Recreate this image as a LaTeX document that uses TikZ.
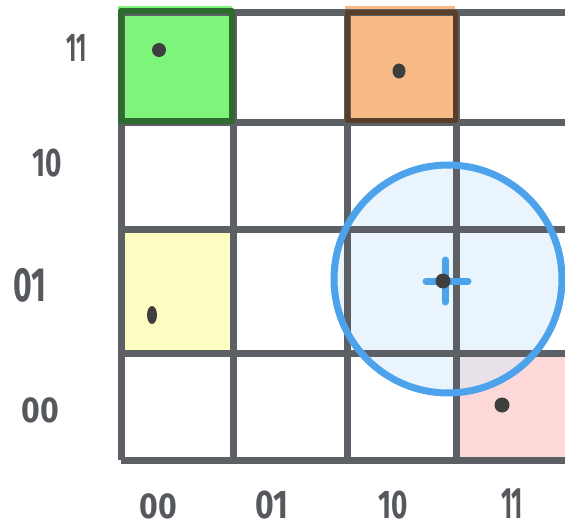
\documentclass[tikz,border=0pt]{standalone}
\usepackage{fontspec}
\setmainfont{Fira Sans}
\definecolor{gridgray}{HTML}{5C5F63}
\definecolor{greenfill}{HTML}{7DF47A}
\definecolor{greenedge}{HTML}{2F6A30}
\definecolor{orangefill}{HTML}{F8BB88}
\definecolor{orangeedge}{HTML}{5A3D2B}
\definecolor{yellowfill}{HTML}{FEFDC2}
\definecolor{pinkfill}{HTML}{FDD9D9}
\definecolor{ringblue}{HTML}{4CA3EB}
\definecolor{ringfill}{HTML}{D6EAFB}
\definecolor{dotgray}{HTML}{3E3E3E}
\definecolor{labelgray}{HTML}{55585C}
\tikzset{
  gridline/.style={draw=gridgray, line width=7pt},
  dotmark/.style={fill=dotgray, draw=none, ellipse, minimum width=13pt, minimum height=15pt, inner sep=0pt},
  axislabel/.style={text=labelgray, font=\fontsize{40}{40}\selectfont\bfseries, inner sep=0pt},
}
\usetikzlibrary{shapes.geometric}
\begin{document}
\begin{tikzpicture}[x=1pt,y=1pt]
\useasboundingbox (0,0) rectangle (565,531);
% cell fills
\fill[greenfill] (118,411) rectangle (232,525);
\fill[orangefill] (345,411) rectangle (455,525);
\fill[yellowfill] (121,178) rectangle (233,301);
\fill[pinkfill] (456,71) rectangle (565,178);
% circle fill
\fill[ringfill, fill opacity=0.5] (448,252) circle (114);
% grid
\foreach \yy in {518,408,301,178,71} { \draw[gridline] (121,\yy) -- (565,\yy); }
\foreach \xx in {121,233,347,456} { \draw[gridline] (\xx,518) -- (\xx,71); }
% cell outlines
\draw[greenedge, line width=6pt, line join=round] (121,410) rectangle (232,520);
\draw[orangeedge, line width=5pt, line join=round] (347,410) rectangle (455,518);
% ring
\node (ring) [circle, draw=ringblue, line width=7pt, minimum size=228pt, inner sep=0pt] at (448,252) {};
% cross
\draw[ringblue, line width=7pt, line cap=round] (426,250) -- (468,250);
\draw[ringblue, line width=7pt, line cap=round] (445,271) -- (445,229);
\node (centerdot) [circle, fill=dotgray, minimum size=15pt, inner sep=0pt] at (443,250) {};
% dots
\node (dgreen) [dotmark, minimum width=14pt, minimum height=14pt] at (159,481) {};
\node (dorange) [dotmark] at (399,460) {};
\node (dyellow) [dotmark, minimum width=10pt, minimum height=18pt] at (152,216) {};
\node (dpink) [dotmark, minimum width=15pt, minimum height=15pt] at (502,126) {};
% labels
\node (l11) [axislabel] at (77,483) {\scalebox{0.55}[1]{11}};
\node (l10) [axislabel] at (47,368) {\scalebox{0.7}[1]{10}};
\node (l01) [axislabel] at (30,246) {\scalebox{0.8}[1.2]{01}};
\node (l00) [axislabel] at (40,121) {\scalebox{0.8}[0.9]{00}};
\node (b00) [axislabel] at (158,25) {\scalebox{0.8}[0.9]{00}};
\node (b01) [axislabel] at (272,26) {\scalebox{0.8}[1]{01}};
\node (b10) [axislabel] at (393,26) {\scalebox{0.7}[1]{10}};
\node (b11) [axislabel] at (512,27) {\scalebox{0.6}[1.1]{11}};
\end{tikzpicture}
\end{document}
